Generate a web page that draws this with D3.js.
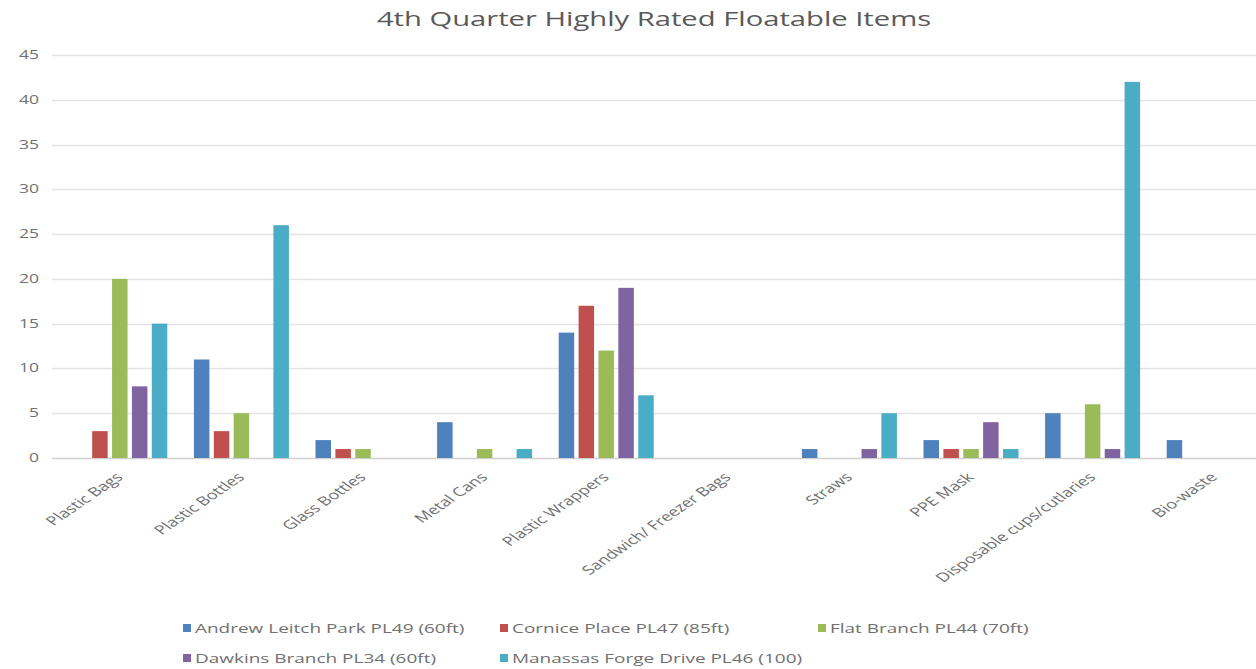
<!DOCTYPE html>
<html>
<head>
<meta charset="utf-8">
<script src="https://cdn.jsdelivr.net/npm/d3@7"></script>
<style>
  body { margin: 0; background: #fff; }
  svg { display: block; font-family: "Open Sans", "Noto Sans", sans-serif; }
</style>
</head>
<body>
<script>
// ---------------------- DATA ----------------------

const categories = [
    "Plastic Bags", "Plastic Bottles", "Glass Bottles", "Metal Cans",
    "Plastic  Wrappers", "Sandwich/ Freezer Bags", "Straws", "PPE Mask",
    "Disposable cups/cutlaries", "Bio-waste"
];

const seriesNames = [
    "Andrew Leitch Park PL49 (60ft)",
    "Cornice Place PL47 (85ft)",
    "Flat Branch PL44 (70ft)",
    "Dawkins Branch PL34 (60ft)",
    "Manassas Forge Drive PL46 (100)"
];

const andrewLeitch = [0, 11, 2, 4, 14, 0, 1, 2, 5, 2];
const cornicePlace = [3, 3, 1, 0, 17, 0, 0, 1, 0, 0];
const flatBranch   = [20, 5, 1, 1, 12, 0, 0, 1, 6, 0];
const dawkins      = [8, 0, 0, 0, 19, 0, 1, 4, 1, 0];
const manassas     = [15, 26, 0, 1, 7, 0, 5, 1, 42, 0];

const yTicks = [0, 5, 10, 15, 20, 25, 30, 35, 40, 45];

const colors = ["#4f81bd", "#c0504d", "#9bbb59", "#8064a2", "#4bacc6"];

// ---------------------- RENDER ----------------------

const width = 1256, height = 669;
const stretch = 1.46; // the picture's text is wider than it is tall
const seriesValues = [andrewLeitch, cornicePlace, flatBranch, dawkins, manassas];

const svg = d3.select("body").append("svg")
    .attr("width", width)
    .attr("height", height);

// title
svg.append("text")
    .attr("transform", `translate(654,26) scale(${stretch},1)`)
    .attr("text-anchor", "middle")
    .attr("fill", "#595959")
    .style("font-size", "20px")
    .text("4th Quarter Highly Rated Floatable Items");

const y = d3.scaleLinear().domain([0, 45]).range([458, 55]);

const x0 = d3.scaleBand()
    .domain(categories)
    .range([59, 1275])
    .paddingInner(0)
    .paddingOuter(0);

const x1 = d3.scaleBand()
    .domain(d3.range(seriesNames.length))
    .range([x0.bandwidth() / 2 - 47.5, x0.bandwidth() / 2 + 47.5])
    .paddingInner(0.22);

// gridlines
svg.append("g")
    .selectAll("line")
    .data(yTicks)
    .join("line")
    .attr("x1", 52)
    .attr("x2", width)
    .attr("y1", d => Math.round(y(d)) + 0.5)
    .attr("y2", d => Math.round(y(d)) + 0.5)
    .attr("stroke", d => d === 0 ? "#d0d0d0" : "#e4e4e4")
    .attr("stroke-width", 1.5);

// y axis labels
svg.append("g")
    .selectAll("text")
    .data(yTicks)
    .join("text")
    .attr("transform", d => `translate(39,${y(d) + 4}) scale(${stretch},1)`)
    .attr("text-anchor", "end")
    .attr("fill", "#707070")
    .style("font-size", "12px")
    .text(d => d);

// bars
const groups = svg.append("g")
    .selectAll("g")
    .data(categories)
    .join("g")
    .attr("transform", d => `translate(${x0(d)},0)`);

groups.selectAll("rect")
    .data((d, i) => seriesValues.map((vals, s) => ({ s, v: vals[i] })))
    .join("rect")
    .attr("x", d => x1(d.s))
    .attr("width", x1.bandwidth())
    .attr("y", d => y(d.v))
    .attr("height", d => y(0) - y(d.v))
    .attr("fill", d => colors[d.s]);

// x labels, rotated then stretched
svg.append("g")
    .selectAll("text")
    .data(categories)
    .join("text")
    .attr("transform", d => `translate(${x0(d) + x0.bandwidth() / 2 + 4},478) scale(${stretch},1) rotate(-45)`)
    .attr("text-anchor", "end")
    .attr("fill", "#707070")
    .style("font-size", "12.5px")
    .text(d => d);

// legend
const legendPos = [[183, 628], [500, 628], [818, 628], [183, 658], [500, 658]];

const legend = svg.append("g")
    .selectAll("g")
    .data(seriesNames)
    .join("g")
    .attr("transform", (d, i) => `translate(${legendPos[i][0]},${legendPos[i][1]})`);

legend.append("rect")
    .attr("x", 0)
    .attr("y", -4)
    .attr("width", 8)
    .attr("height", 8)
    .attr("fill", (d, i) => colors[i]);

legend.append("text")
    .attr("transform", `translate(12,5) scale(${stretch},1)`)
    .attr("fill", "#707070")
    .style("font-size", "13px")
    .text(d => d);
</script>
</body>
</html>
